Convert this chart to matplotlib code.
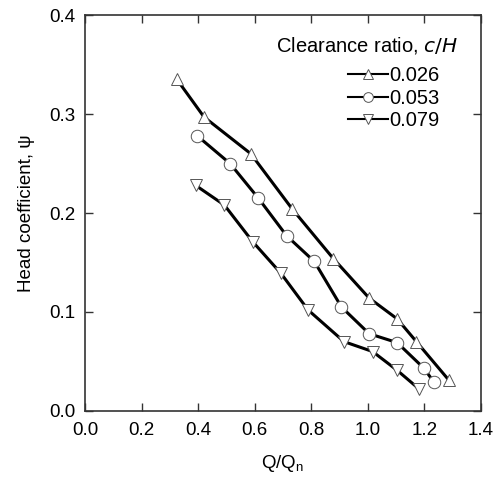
import matplotlib.pyplot as plt
from matplotlib.lines import Line2D

plt.rcParams['font.family'] = ['Liberation Sans', 'DejaVu Sans']

# Q/Qn and head coefficient for each clearance ratio
q_026 = [0.325, 0.421, 0.586, 0.733, 0.878, 1.005, 1.104, 1.172, 1.287]
psi_026 = [0.335, 0.297, 0.260, 0.204, 0.154, 0.114, 0.093, 0.070, 0.031]

q_053 = [0.397, 0.513, 0.613, 0.713, 0.811, 0.907, 1.005, 1.104, 1.199, 1.234]
psi_053 = [0.278, 0.250, 0.215, 0.177, 0.151, 0.105, 0.078, 0.069, 0.043, 0.029]

q_079 = [0.391, 0.493, 0.593, 0.693, 0.789, 0.916, 1.017, 1.104, 1.182]
psi_079 = [0.228, 0.208, 0.171, 0.139, 0.102, 0.070, 0.060, 0.041, 0.022]

labels = ['0.026', '0.053', '0.079']
markers = ['^', 'o', 'v']

fig = plt.figure(figsize=(5.03, 4.88), dpi=100)
ax = fig.add_axes([0.169, 0.158, 0.787, 0.811])

series = [(q_026, psi_026), (q_053, psi_053), (q_079, psi_079)]
for (x, y), m in zip(series, markers):
    ax.plot(x, y, color='black', lw=2.2, marker=m, markersize=9,
            markerfacecolor='white', markeredgecolor='#555555', markeredgewidth=0.7)

ax.set_xlim(0, 1.4)
ax.set_ylim(0, 0.4)
ax.set_xticks([0.0, 0.2, 0.4, 0.6, 0.8, 1.0, 1.2, 1.4])
ax.set_yticks([0.0, 0.1, 0.2, 0.3, 0.4])
ax.xaxis.set_major_formatter(plt.FormatStrFormatter('%.1f'))
ax.yaxis.set_major_formatter(plt.FormatStrFormatter('%.1f'))
ax.tick_params(direction='in', length=6, width=1, top=True, right=True,
               labelsize=13.5, color='#333333')
ax.tick_params(axis='x', pad=8)
ax.tick_params(axis='y', pad=7)
for s in ax.spines.values():
    s.set_color('#333333')
    s.set_linewidth(1.2)

ax.set_xlabel('Q/Q$_\\mathregular{n}$', fontsize=13.5, labelpad=10)
ax.set_ylabel('Head coefficient, \u03c8', fontsize=13.5, labelpad=10)

ax.text(0.942, 0.924, 'Clearance ratio, $\\it{c/H}$', transform=ax.transAxes,
        fontsize=14.5, ha='right', va='center')

handles = [Line2D([], [], color='black', lw=1.5, marker=m, markersize=7,
                  markerfacecolor='white', markeredgecolor='#555555',
                  markeredgewidth=0.7) for m in markers]
ax.legend(handles, labels, loc='upper right', bbox_to_anchor=(0.895, 0.872),
          frameon=False, fontsize=14.5, handlelength=2.0, handletextpad=0.05,
          labelspacing=0.19, borderpad=0, borderaxespad=0)

fig.savefig('out.png', dpi=100)
